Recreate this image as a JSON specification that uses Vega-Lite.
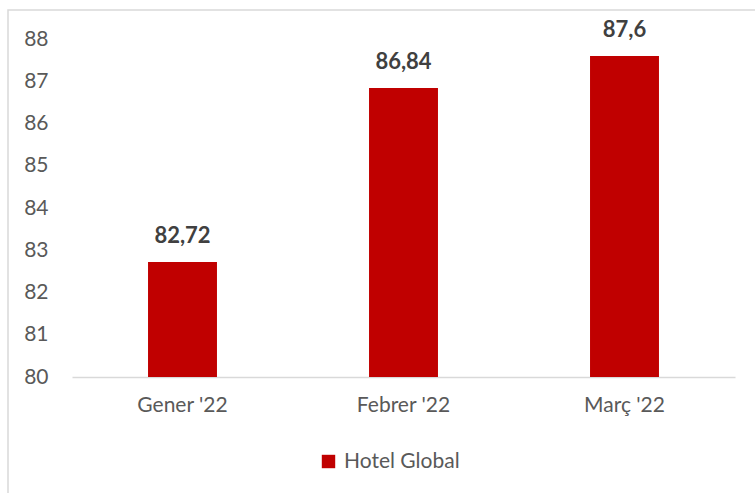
{
  "$schema": "https://vega.github.io/schema/vega-lite/v6.json",
  "autosize": "none",
  "width": 757,
  "height": 493,
  "padding": {"left": 8, "top": 10, "right": -10, "bottom": -10},
  "background": "white",
  "config": {
    "view": {"stroke": "#D9D9D9", "strokeWidth": 1.5},
    "font": "Lato",
    "locale": {"number": {"decimal": ",", "thousands": ".", "grouping": [3], "currency": ["", " €"]}}
  },
  "data": {
    "values": [
      {"mes": "Gener '22", "valor": 82.72, "serie": "Hotel Global"},
      {"mes": "Febrer '22", "valor": 86.84, "serie": "Hotel Global"},
      {"mes": "Març '22", "valor": 87.6, "serie": "Hotel Global"}
    ]
  },
  "encoding": {
    "x": {
      "field": "mes",
      "type": "nominal",
      "sort": null,
      "scale": {"range": [64, 727], "paddingInner": 0.688, "paddingOuter": 0.344},
      "axis": {
        "title": null,
        "orient": "bottom",
        "offset": -126,
        "domainColor": "#D9D9D9",
        "domainWidth": 1.5,
        "ticks": false,
        "tickSize": 0,
        "grid": false,
        "labelAngle": 0,
        "labelPadding": 17,
        "labelFontSize": 21,
        "labelColor": "#595959",
        "labelFont": "Lato"
      }
    },
    "y": {
      "field": "valor",
      "type": "quantitative",
      "scale": {"domain": [80, 88], "range": [367, 29], "nice": false, "zero": false},
      "axis": {
        "title": null,
        "domain": false,
        "ticks": false,
        "tickSize": 0,
        "grid": false,
        "labelPadding": 0,
        "offset": -40,
        "values": [80, 81, 82, 83, 84, 85, 86, 87, 88],
        "format": "d",
        "labelFontSize": 21,
        "labelColor": "#595959",
        "labelFont": "Lato"
      }
    }
  },
  "layer": [
    {
      "mark": {"type": "bar"},
      "encoding": {
        "y2": {"datum": 80},
        "color": {
          "field": "serie",
          "type": "nominal",
          "scale": {"range": ["#C00000"]},
          "legend": {
            "title": null,
            "orient": "none",
            "legendX": 310,
            "legendY": 441,
            "symbolType": "square",
            "symbolSize": 180,
            "symbolStrokeWidth": 0,
            "labelFontSize": 21,
            "labelColor": "#595959",
            "labelFont": "Lato",
            "labelOffset": 5
          }
        }
      }
    },
    {
      "mark": {"type": "text", "dy": -19, "baseline": "alphabetic", "fontWeight": "bold", "fontSize": 22, "color": "#404040", "font": "Lato"},
      "encoding": {
        "text": {"field": "valor", "type": "quantitative", "format": "~g"}
      }
    }
  ]
}
